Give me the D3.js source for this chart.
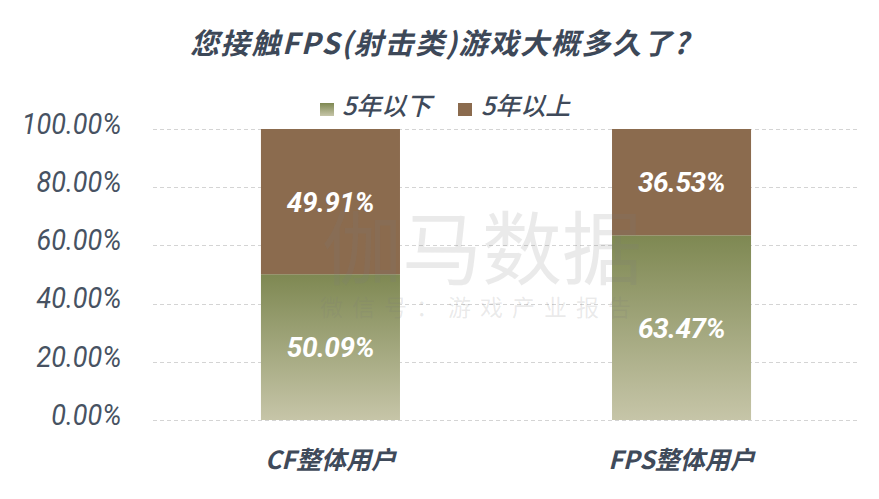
<!DOCTYPE html>
<html>
<head>
<meta charset="utf-8">
<script src="https://cdn.jsdelivr.net/npm/d3@7"></script>
<style>
  html, body { margin: 0; padding: 0; background: #ffffff; }
  svg { display: block; }
</style>
</head>
<body>
<svg id="chart" width="879" height="499"></svg>
<script>
const titleText = "您接触FPS(射击类)游戏大概多久了?";
const categories = ["CF整体用户", "FPS整体用户"];
const seriesNames = ["5年以下", "5年以上"];
const under5 = [50.09, 63.47];
const over5 = [49.91, 36.53];
const yTicks = [0, 20, 40, 60, 80, 100];
const watermarkMain = "伽马数据";
const watermarkSub = "微信号：游戏产业报告";

const W = 879, H = 499;
const margin = { left: 153, right: 20, top: 129, bottom: 79 };
const svg = d3.select("#chart");
const defs = svg.append("defs");

const grad = defs.append("linearGradient")
  .attr("id", "greenGrad").attr("x1", 0).attr("y1", 0).attr("x2", 0).attr("y2", 1);
grad.append("stop").attr("offset", "0%").attr("stop-color", "#7e8852");
grad.append("stop").attr("offset", "100%").attr("stop-color", "#c6c5a8");

const colors = { "5年以下": "url(#greenGrad)", "5年以上": "#8b6b4e" };

const rows = categories.map((c, i) => ({ cat: c, "5年以下": under5[i], "5年以上": over5[i] }));
const stacked = d3.stack().keys(seriesNames)(rows);

const x = d3.scaleBand().domain(categories)
  .range([margin.left, W - margin.right])
  .paddingInner(0.604).paddingOuter(0.3075);
const y = d3.scaleLinear().domain([0, 100]).range([H - margin.bottom, margin.top]);

const cjk = "'Noto Sans CJK SC', 'Noto Sans', sans-serif";
const latin = "Roboto, 'Noto Sans CJK SC', sans-serif";

// title
svg.append("text")
  .attr("x", 440).attr("y", 54)
  .attr("text-anchor", "middle")
  .attr("font-family", cjk).attr("font-weight", 700).attr("font-style", "italic")
  .attr("font-size", 29).attr("letter-spacing", 1.7)
  .attr("fill", "#3d4858")
  .text(titleText);

// gridlines
svg.append("g").selectAll("line").data(yTicks).join("line")
  .attr("x1", margin.left).attr("x2", W - margin.right)
  .attr("y1", d => Math.round(y(d)) + 0.5).attr("y2", d => Math.round(y(d)) + 0.5)
  .attr("stroke", "#d4d4d4").attr("stroke-width", 1).attr("stroke-dasharray", "4,3");

// y axis
const yAxis = d3.axisLeft(y).tickValues(yTicks).tickSize(0).tickPadding(34)
  .tickFormat(d => d.toFixed(2) + "%");
const gy = svg.append("g").attr("transform", `translate(${margin.left},0)`).call(yAxis);
gy.select(".domain").remove();
gy.selectAll("text")
  .attr("font-family", latin).attr("font-style", "italic").attr("font-weight", 400)
  .attr("font-size", 29).attr("fill", "#475262")
  .attr("transform", "scale(0.93,1)")
  .attr("y", -5);

// bars
const gBars = svg.append("g");
stacked.forEach(s => {
  gBars.append("g").selectAll("rect").data(s).join("rect")
    .attr("x", d => x(d.data.cat))
    .attr("width", x.bandwidth())
    .attr("y", d => y(d[1]))
    .attr("height", d => y(d[0]) - y(d[1]))
    .attr("fill", colors[s.key]);
});

// value labels
stacked.forEach(s => {
  svg.append("g").selectAll("text").data(s).join("text")
    .attr("x", d => x(d.data.cat) + x.bandwidth() / 2)
    .attr("y", d => (y(d[0]) + y(d[1])) / 2)
    .attr("dy", "0.36em")
    .attr("text-anchor", "middle")
    .attr("font-family", latin).attr("font-style", "italic").attr("font-weight", 700)
    .attr("font-size", 28).attr("letter-spacing", -0.5)
    .attr("fill", "#ffffff")
    .text(d => (d[1] - d[0]).toFixed(2) + "%");
});

// x axis labels
const xAxis = d3.axisBottom(x).tickSize(0).tickPadding(31);
const gx = svg.append("g").attr("transform", `translate(0,${H - margin.bottom})`).call(xAxis);
gx.select(".domain").remove();
gx.selectAll("text")
  .attr("font-family", cjk).attr("font-style", "italic").attr("font-weight", 700)
  .attr("font-size", 25).attr("fill", "#3f4a5a");

// legend
const legendItems = [
  { name: seriesNames[0], sx: 320, tx: 342 },
  { name: seriesNames[1], sx: 458, tx: 481 }
];
const lg = svg.append("g");
legendItems.forEach(it => {
  lg.append("rect").attr("x", it.sx).attr("y", 103).attr("width", 14).attr("height", 13)
    .attr("fill", colors[it.name]);
  lg.append("text").attr("x", it.tx).attr("y", 115)
    .attr("font-family", cjk).attr("font-style", "italic").attr("font-weight", 500)
    .attr("font-size", 25).attr("fill", "#3f4a5a")
    .text(it.name);
});

// watermark
svg.append("text")
  .attr("x", 482).attr("y", 278)
  .attr("text-anchor", "middle")
  .attr("font-family", cjk).attr("font-weight", 400)
  .attr("font-size", 80)
  .attr("fill", "#7a7a7a").attr("fill-opacity", 0.16)
  .text(watermarkMain);
svg.append("text")
  .attr("x", 480).attr("y", 316)
  .attr("text-anchor", "middle")
  .attr("font-family", cjk).attr("font-weight", 400)
  .attr("font-size", 23).attr("letter-spacing", 9)
  .attr("fill", "#7a7a7a").attr("fill-opacity", 0.16)
  .text(watermarkSub);
</script>
</body>
</html>
